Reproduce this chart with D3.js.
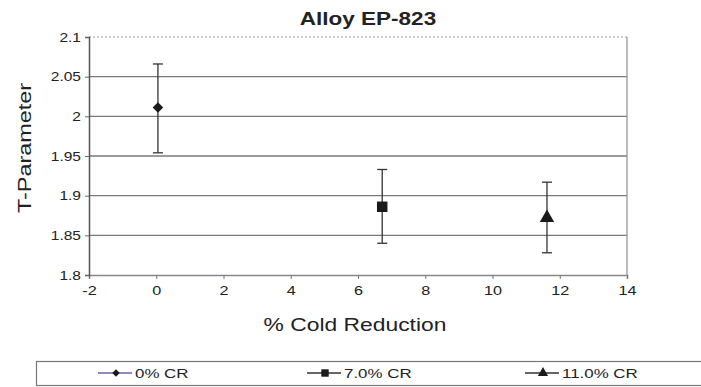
<!DOCTYPE html>
<html>
<head>
<meta charset="utf-8">
<script src="https://cdn.jsdelivr.net/npm/d3@7/dist/d3.min.js"></script>
<style>
  body { margin: 0; background: #fff; }
  text { font-family: "Liberation Sans", Arial, sans-serif; fill: #222; }
</style>
</head>
<body>
<div id="chart"></div>
<script>
// data
var seriesNames = ["0% CR", "7.0% CR", "11.0% CR"];
var coldReduction = [0.05, 6.72, 11.62];
var tMean = [2.011, 1.886, 1.872];
var tUpper = [2.066, 1.933, 1.917];
var tLower = [1.954, 1.840, 1.828];
var xTickValues = [-2, 0, 2, 4, 6, 8, 10, 12, 14];
var yTickValues = [1.8, 1.85, 1.9, 1.95, 2, 2.05, 2.1];

var width = 701, height = 387;
var margin = { top: 37, right: 74, bottom: 112, left: 89 },
    plotW = width - margin.left - margin.right,
    plotH = height - margin.top - margin.bottom;

var svg = d3.select("#chart").append("svg")
    .attr("width", width)
    .attr("height", height);

// the scanned figure has wide text, stretch it a little
function stretch(sel, k) {
    sel.each(function () {
        var w = this.getComputedTextLength();
        d3.select(this).attr("textLength", w * k).attr("lengthAdjust", "spacingAndGlyphs");
    });
}

var x = d3.scaleLinear().domain([-2, 14]).range([0, plotW]);
var y = d3.scaleLinear().domain([1.8, 2.1]).range([plotH, 0]);

var g = svg.append("g")
    .attr("transform", "translate(" + margin.left + "," + margin.top + ")");

// gridlines
g.selectAll(".grid")
    .data(yTickValues.slice(1, -1))
    .enter().append("line")
    .attr("class", "grid")
    .attr("x1", 0).attr("x2", plotW)
    .attr("y1", function (d) { return y(d); })
    .attr("y2", function (d) { return y(d); })
    .attr("stroke", "#7a7a7a")
    .attr("stroke-width", 1.3);

// plot frame: dotted top, gray right
g.append("line")
    .attr("x1", 0).attr("x2", plotW).attr("y1", 0).attr("y2", 0)
    .attr("stroke", "#999").attr("stroke-width", 1.2).attr("stroke-dasharray", "2,2");
g.append("line")
    .attr("x1", plotW).attr("x2", plotW).attr("y1", 0).attr("y2", plotH)
    .attr("stroke", "#999").attr("stroke-width", 1.3);

// axes
var xAxis = d3.axisBottom(x).tickValues(xTickValues).tickSize(4).tickPadding(6)
    .tickFormat(function (d) { return String(d); });
var yAxis = d3.axisLeft(y).tickValues(yTickValues).tickSize(4).tickPadding(4)
    .tickFormat(function (d) { return String(+d.toFixed(2)); });

var gx = g.append("g")
    .attr("transform", "translate(0," + plotH + ")")
    .call(xAxis);
var gy = g.append("g").call(yAxis);

gx.select(".domain").attr("stroke", "#888").attr("stroke-width", 1.6);
gx.selectAll(".tick line").attr("stroke", "#777");
gy.select(".domain").attr("stroke", "#555").attr("stroke-width", 1.5);
gy.selectAll(".tick line").attr("stroke", "#666");

gx.selectAll(".tick text").attr("font-size", 13.5).attr("fill", "#333")
    .attr("font-family", "Liberation Sans, Arial, sans-serif");
gy.selectAll(".tick text").attr("font-size", 13.5).attr("fill", "#333")
    .attr("font-family", "Liberation Sans, Arial, sans-serif");
stretch(gx.selectAll(".tick text"), 1.2);
stretch(gy.selectAll(".tick text"), 1.15);

// error bars and markers
var points = seriesNames.map(function (name, i) {
    return { name: name, x: coldReduction[i], y: tMean[i], hi: tUpper[i], lo: tLower[i], i: i };
});
// diamond is a square turned by 45 degrees, like the Excel marker
var symbolTypes = [d3.symbolSquare, d3.symbolSquare, d3.symbolTriangle];
var symbolSizes = [55, 110, 90];
var symbolTurn = [45, 0, 0];
var capW = 5;

var pt = g.selectAll(".point")
    .data(points)
    .enter().append("g")
    .attr("class", "point");

pt.append("line")
    .attr("x1", function (d) { return x(d.x); })
    .attr("x2", function (d) { return x(d.x); })
    .attr("y1", function (d) { return y(d.hi); })
    .attr("y2", function (d) { return y(d.lo); })
    .attr("stroke", "#333").attr("stroke-width", 1.3);
pt.selectAll(".cap")
    .data(function (d) { return [{ x: d.x, v: d.hi }, { x: d.x, v: d.lo }]; })
    .enter().append("line")
    .attr("x1", function (d) { return x(d.x) - capW; })
    .attr("x2", function (d) { return x(d.x) + capW; })
    .attr("y1", function (d) { return y(d.v); })
    .attr("y2", function (d) { return y(d.v); })
    .attr("stroke", "#333").attr("stroke-width", 1.3);
pt.append("path")
    .attr("transform", function (d) {
        return "translate(" + x(d.x) + "," + y(d.y) + ") rotate(" + symbolTurn[d.i] + ")";
    })
    .attr("d", function (d) { return d3.symbol().type(symbolTypes[d.i]).size(symbolSizes[d.i])(); })
    .attr("fill", "#1a1a1a");

// title and axis titles
var title = svg.append("text")
    .attr("x", 368).attr("y", 25)
    .attr("text-anchor", "middle")
    .attr("font-size", 18).attr("font-weight", "bold")
    .text("Alloy EP-823");
stretch(title, 1.25);

var xTitle = svg.append("text")
    .attr("x", 355).attr("y", 331)
    .attr("text-anchor", "middle")
    .attr("font-size", 18).attr("fill", "#333")
    .text("% Cold Reduction");
stretch(xTitle, 1.27);

var yTitle = svg.append("text")
    .attr("transform", "translate(31,148) rotate(-90)")
    .attr("text-anchor", "middle")
    .attr("font-size", 18).attr("fill", "#333")
    .text("T-Parameter");
stretch(yTitle, 1.3);

// legend
svg.append("rect")
    .attr("x", 36.5).attr("y", 361.5)
    .attr("width", 700).attr("height", 24)
    .attr("fill", "#fff")
    .attr("stroke", "#777").attr("stroke-width", 1.2);

var legendX = [98, 307, 525];
var legendLineColors = ["#6b5fb5", "#333", "#333"];
var lg = svg.selectAll(".legend")
    .data(points)
    .enter().append("g")
    .attr("class", "legend")
    .attr("transform", function (d, i) { return "translate(" + legendX[i] + ",373)"; });
lg.append("line")
    .attr("x1", 0).attr("x2", 34)
    .attr("stroke", function (d, i) { return legendLineColors[i]; })
    .attr("stroke-width", 1.3);
lg.append("path")
    .attr("transform", function (d) { return "translate(18,0) rotate(" + symbolTurn[d.i] + ")"; })
    .attr("d", function (d) { return d3.symbol().type(symbolTypes[d.i]).size(symbolSizes[d.i] * 0.5)(); })
    .attr("fill", "#1a1a1a");
var lgText = lg.append("text")
    .attr("x", 37).attr("y", 5)
    .attr("font-size", 13).attr("fill", "#444")
    .text(function (d) { return d.name; });
stretch(lgText, 1.3);
</script>
</body>
</html>
